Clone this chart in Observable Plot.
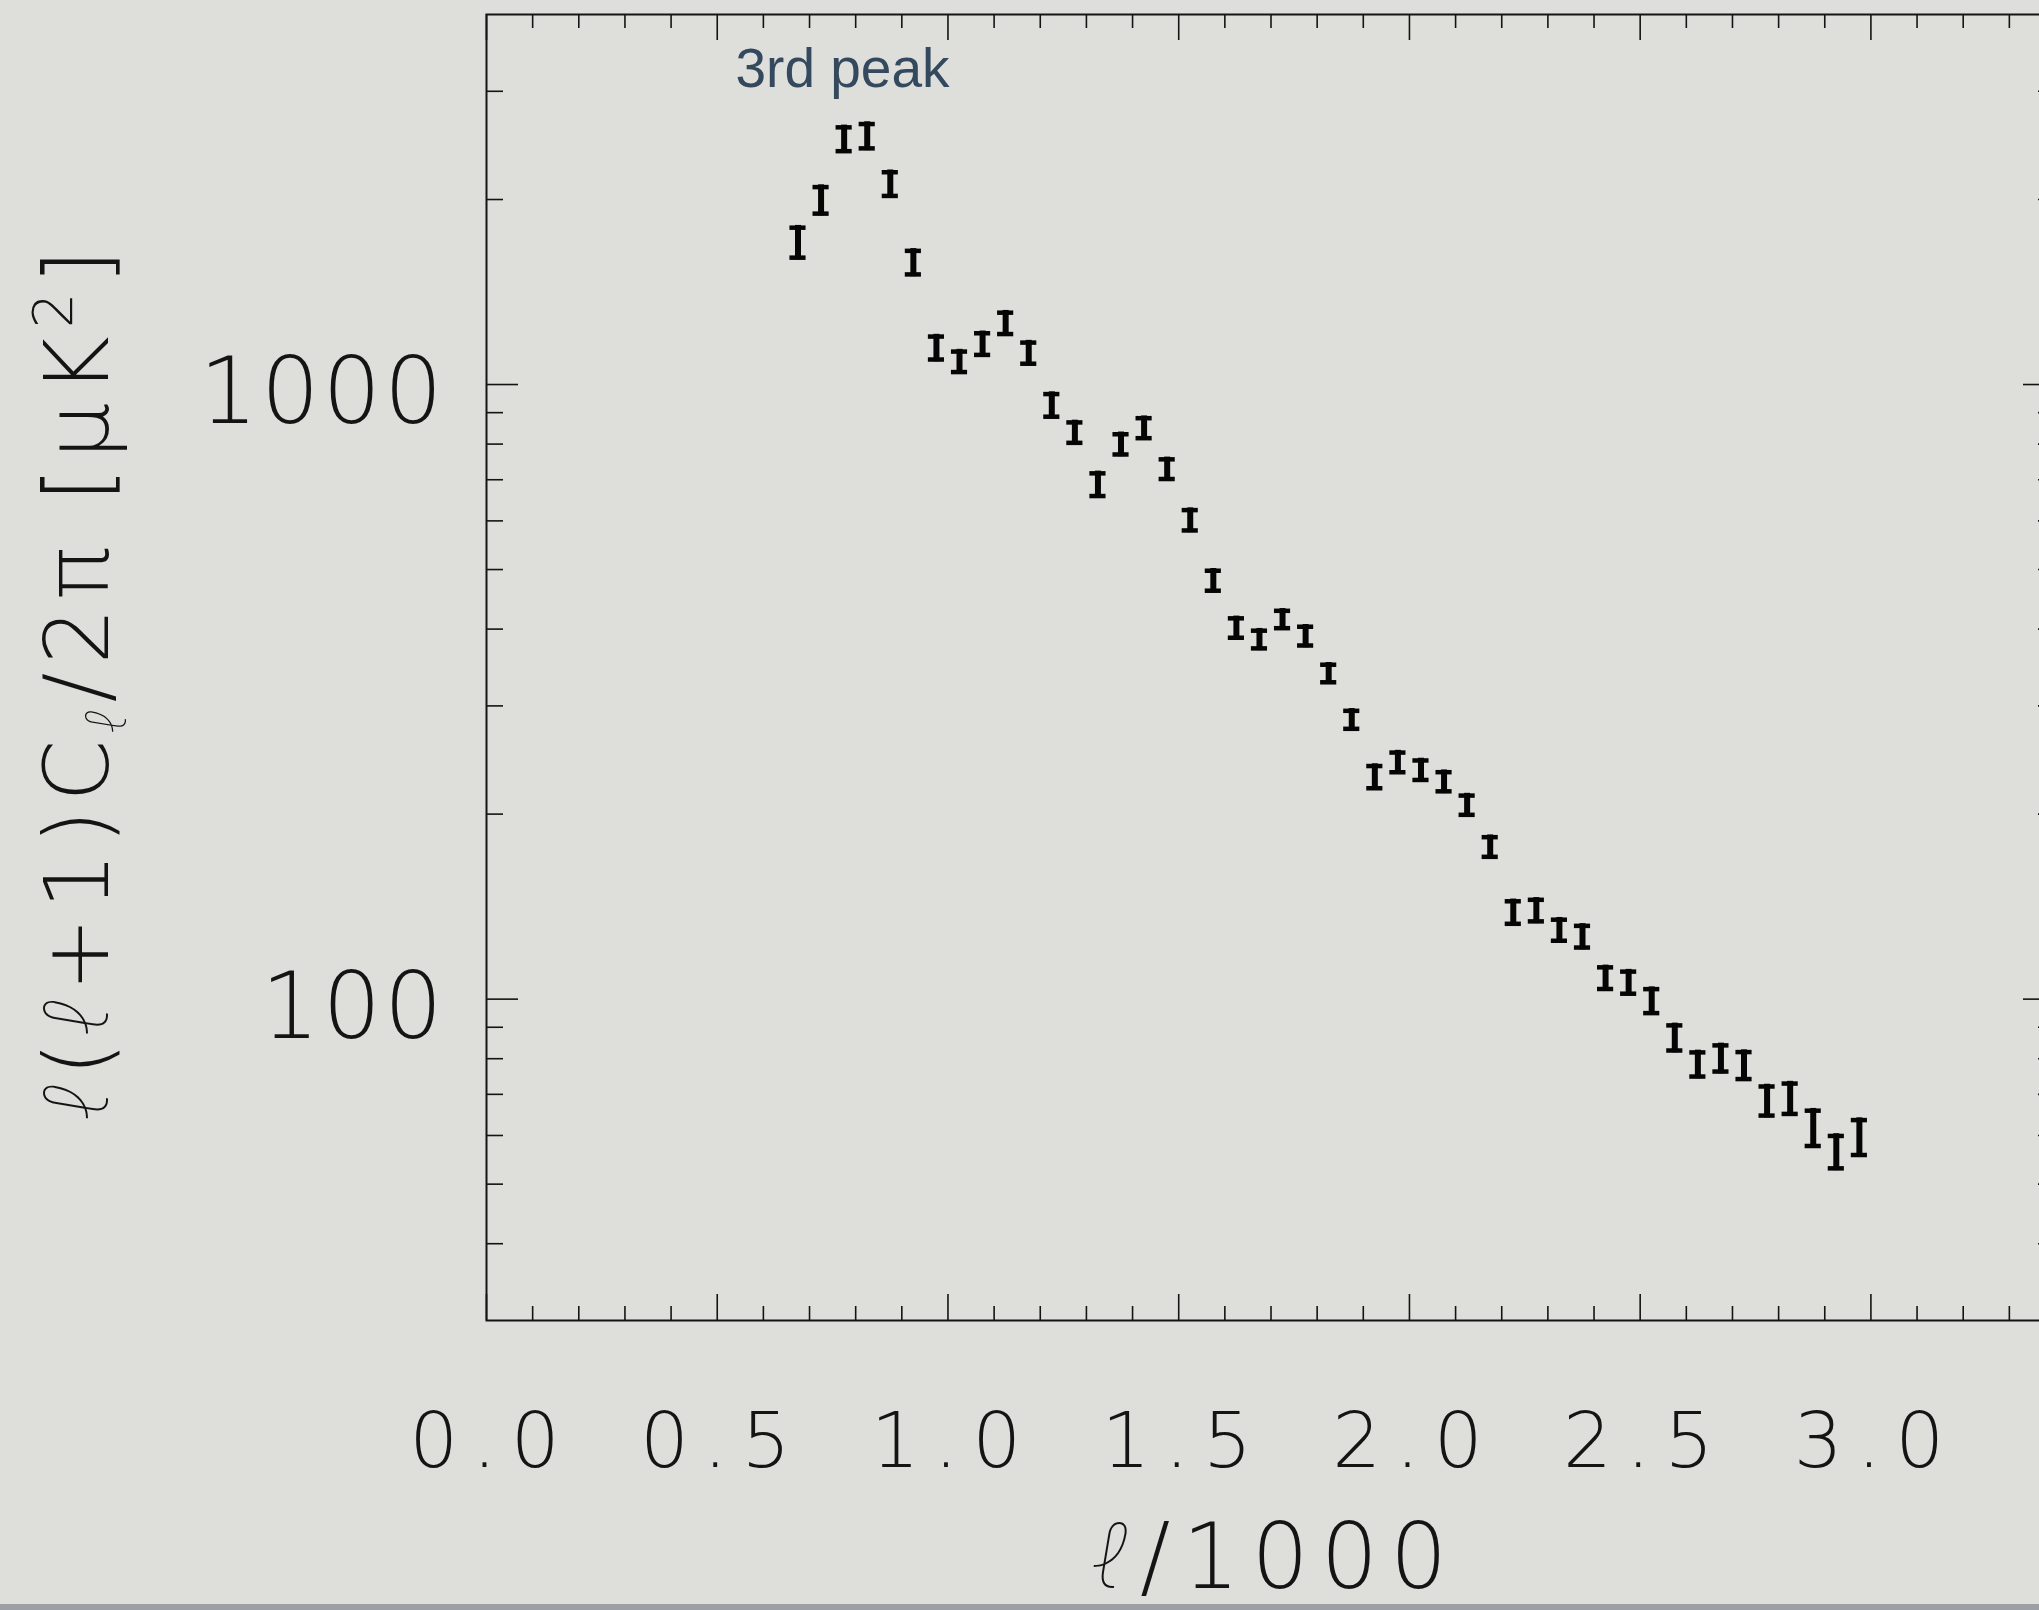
<!DOCTYPE html>
<html>
<head>
<meta charset="utf-8">
<script src="https://cdn.jsdelivr.net/npm/d3@7"></script>
<script src="https://cdn.jsdelivr.net/npm/@observablehq/plot@0.6"></script>
<style>
  html, body { margin: 0; padding: 0; background: #dedfda; overflow: hidden; }
  #chart { position: absolute; left: 0; top: 0; width: 2039px; height: 1610px; overflow: hidden; }
  #chart svg { max-width: none !important; }
  #chart g[aria-label="x-axis tick label"] text { letter-spacing: 14px; }
  #chart g[aria-label="y-axis tick label"] text { letter-spacing: 3px; }
  #chart tspan.ell { font-family: Inter, "Noto Sans", Roboto, Lato, sans-serif; font-weight: 100; font-style: italic; }
  #strip { position: absolute; left: 0; bottom: 0; width: 2039px; height: 6px; background: #9d9fa6; }
</style>
</head>
<body>
<div id="chart"></div>
<div id="strip"></div>
<script>
// Binned CMB temperature power spectrum, ℓ/1000 bin centres
const ell = [0.675, 0.725, 0.775, 0.825, 0.875, 0.925, 0.975, 1.025, 1.075, 1.125,
             1.175, 1.225, 1.275, 1.325, 1.375, 1.425, 1.475, 1.525, 1.575, 1.625,
             1.675, 1.725, 1.775, 1.825, 1.875, 1.925, 1.975, 2.025, 2.075, 2.125,
             2.175, 2.225, 2.275, 2.325, 2.375, 2.425, 2.475, 2.525, 2.575, 2.625,
             2.675, 2.725, 2.775, 2.825, 2.875, 2.925, 2.975];
// ℓ(ℓ+1)Cℓ/2π in μK²
const power = [1705, 1997, 2510, 2539, 2122, 1581, 1148, 1090, 1165, 1259,
               1126, 926, 836, 688, 800, 850, 729, 602, 480, 402,
               385, 415, 390, 339, 285, 230, 243, 236, 226, 207,
               177, 138.5, 139.5, 129.6, 126.5, 108.3, 106.5, 99.4, 86.6, 78.4,
               80.2, 78.1, 68.4, 69, 61.8, 56.5, 59.7];
// 1σ uncertainty in μK²
const sigma = [110, 116, 133, 137, 112, 83, 59, 51, 57, 61,
               54, 47, 39, 35, 37, 39, 33, 28, 22, 18,
               16, 17, 17, 14, 12, 11.5, 11, 10.6, 10, 9.2,
               8, 7, 6.8, 6.2, 6.2, 5.3, 5.3, 5.3, 4.8, 4.2,
               4.6, 4.6, 4.3, 4.5, 4.6, 3.9, 4.4];

// Axis ticks
const xMajor = [0, 0.5, 1.0, 1.5, 2.0, 2.5, 3.0];
const xMinor = [0.1, 0.2, 0.3, 0.4, 0.6, 0.7, 0.8, 0.9, 1.1, 1.2, 1.3, 1.4,
                1.6, 1.7, 1.8, 1.9, 2.1, 2.2, 2.3, 2.4, 2.6, 2.7, 2.8, 2.9,
                3.1, 3.2, 3.3];
const yMajor = [100, 1000];
const yMinor = [40, 50, 60, 70, 80, 90, 200, 300, 400, 500, 600, 700, 800, 900, 2000, 3000];
const annotation = ["3rd peak"];

const rows = ell.map((x, i) => ({ell: x, power: power[i], sigma: sigma[i]}));

const W = 2056, H = 1610;
const mL = 486, mR = 1, mT = 14, mB = 290;
const frameW = W - mL - mR, frameH = H - mT - mB;
const capHalf = 0.0175;      // half cap width in ℓ/1000 units
const ink = "#141414";
const bar = "#050505";
const thin = "DejaVu Sans, Liberation Sans, sans-serif";

const plot = Plot.plot({
  width: W,
  height: H,
  marginLeft: mL,
  marginRight: mR,
  marginTop: mT,
  marginBottom: mB,
  style: {background: "transparent", color: ink, fontFamily: thin, maxWidth: "none"},
  x: {domain: [0, 3.4]},
  y: {type: "log", domain: [30, 4000]},
  marks: [
    // inward ticks on all four sides
    Plot.tickX(xMajor, {x: d => d, insetTop: frameH - 26, stroke: ink, strokeWidth: 1.6}),
    Plot.tickX(xMajor, {x: d => d, insetBottom: frameH - 26, stroke: ink, strokeWidth: 1.6}),
    Plot.tickX(xMinor, {x: d => d, insetTop: frameH - 14, stroke: ink, strokeWidth: 1.6}),
    Plot.tickX(xMinor, {x: d => d, insetBottom: frameH - 14, stroke: ink, strokeWidth: 1.6}),
    Plot.tickY(yMajor, {y: d => d, insetRight: frameW - 32, stroke: ink, strokeWidth: 1.6}),
    Plot.tickY(yMajor, {y: d => d, insetLeft: frameW - 32, stroke: ink, strokeWidth: 1.6}),
    Plot.tickY(yMinor, {y: d => d, insetRight: frameW - 17, stroke: ink, strokeWidth: 1.6}),
    Plot.tickY(yMinor, {y: d => d, insetLeft: frameW - 17, stroke: ink, strokeWidth: 1.6}),
    Plot.frame({stroke: ink, strokeWidth: 2}),
    // tick labels
    Plot.axisX(xMajor, {anchor: "bottom", tickSize: 0, tickPadding: 92, label: null, dx: 5,
      tickFormat: d => d.toFixed(1), fontSize: 77, fontWeight: 200, fontFamily: thin}),
    Plot.axisY(yMajor, {anchor: "left", tickSize: 0, tickPadding: 41, label: null, dy: 9,
      tickFormat: d => String(d), fontSize: 92, fontWeight: 200, fontFamily: thin}),
    // error bars: stems and caps
    Plot.ruleX(rows, {x: "ell", y1: d => d.power - d.sigma, y2: d => d.power + d.sigma,
      stroke: bar, strokeWidth: 6}),
    Plot.ruleY(rows, {y: d => d.power + d.sigma, x1: d => d.ell - capHalf, x2: d => d.ell + capHalf,
      stroke: bar, strokeWidth: 4.5, dy: 2.25}),
    Plot.ruleY(rows, {y: d => d.power - d.sigma, x1: d => d.ell - capHalf, x2: d => d.ell + capHalf,
      stroke: bar, strokeWidth: 4.5, dy: -2.25}),
    Plot.text(annotation, {text: d => d, frameAnchor: "top-left", textAnchor: "start", lineAnchor: "top",
      dx: 249, dy: 33, fontSize: 55, fontFamily: "Liberation Sans, Arial, sans-serif", fill: "#34495e"})
  ]
});

const svg = d3.select(plot);

// y-axis title, rotated
const yTitle = svg.append("text")
  .attr("transform", "translate(108,680) rotate(-90)")
  .attr("text-anchor", "middle")
  .attr("font-family", thin)
  .attr("font-weight", 200)
  .attr("font-size", 89)
  .attr("letter-spacing", 8)
  .attr("fill", ink);
yTitle.append("tspan").attr("class", "ell").text("ℓ");
yTitle.append("tspan").text("(");
yTitle.append("tspan").attr("class", "ell").text("ℓ");
yTitle.append("tspan").text("+1)C");
yTitle.append("tspan").attr("class", "ell").attr("font-size", 56).attr("dy", 18).text("ℓ");
yTitle.append("tspan").attr("dy", -18).text("/2π [μK");
yTitle.append("tspan").attr("font-size", 56).attr("dy", -36).text("2");
yTitle.append("tspan").attr("dy", 36).text("]");

// x-axis title
const xTitle = svg.append("text")
  .attr("x", (mL + W - mR) / 2 + 6)
  .attr("y", 1588)
  .attr("text-anchor", "middle")
  .attr("font-family", thin)
  .attr("font-weight", 200)
  .attr("font-size", 90)
  .attr("letter-spacing", 12)
  .attr("fill", ink);
xTitle.append("tspan").attr("class", "ell").text("ℓ");
xTitle.append("tspan").text("/1000");

document.getElementById("chart").appendChild(plot);
</script>
</body>
</html>
